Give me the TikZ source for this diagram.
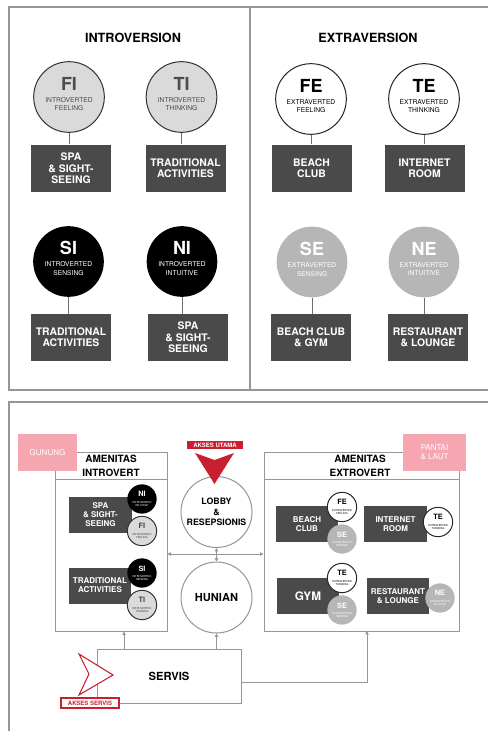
\documentclass[tikz,border=0pt]{standalone}
\usepackage{fontspec}
\setmainfont{TeX Gyre Heros}
\usetikzlibrary{arrows.meta,fit}

\definecolor{framegray}{RGB}{150,150,150}
\definecolor{boxgray}{RGB}{74,74,74}
\definecolor{lightc}{RGB}{218,218,218}
\definecolor{midc}{RGB}{182,182,182}
\definecolor{pinkc}{RGB}{245,166,176}
\definecolor{redc}{RGB}{200,32,47}
\definecolor{linkgray}{RGB}{110,110,110}

\newcommand{\fs}[2]{\fontsize{#1}{#2}\selectfont}
% big type circle: code, two lines of text
\newcommand{\typetxt}[3]{{\fs{13.5}{13}\bfseries #1}\\[2.5pt]#2\\#3}
% small type circle in the plan
\newcommand{\smalltxt}[3]{{\fs{5.5}{5.5}\bfseries #1}\\[2.2pt]#2\\#3}

\tikzset{every picture/.style={line width=0.75pt}}
\tikzset{
panel/.style={draw=framegray, line width=0.9pt},
heading/.style={font=\fs{9.5}{11}\bfseries},
typecirc/.style={circle, minimum size=53pt, inner sep=0pt, align=center, font=\fs{5}{6.5}, text depth=4.5pt},
lightcirc/.style={typecirc, fill=lightc, draw=black!80, text=black!70},
whitecirc/.style={typecirc, fill=white, draw=black!85},
blackcirc/.style={typecirc, fill=black, text=white},
graycirc/.style={typecirc, fill=midc, text=white},
smallcirc/.style={circle, minimum size=22pt, inner sep=0pt, align=center, font=\fs{2}{2.4}},
smlight/.style={smallcirc, fill=lightc, draw=black!80, text=black!75},
smwhite/.style={smallcirc, fill=white, draw=black!85},
smblack/.style={smallcirc, fill=black, text=white},
smgray/.style={smallcirc, fill=midc, text=white},
actbox/.style={rectangle, fill=boxgray, text=white, minimum width=60pt, minimum height=35.25pt, inner sep=0pt, align=center, font=\fs{7.8}{8.5}\bfseries},
actsmall/.style={rectangle, fill=boxgray, text=white, minimum width=47pt, minimum height=27pt, inner sep=0pt, align=center, font=\fs{6}{6.75}\bfseries},
link/.style={draw=linkgray, line width=0.6pt},
zone/.style={rectangle, fill=pinkc, text=white, minimum width=44.25pt, minimum height=27.75pt, inner sep=0pt, align=center, font=\fs{6}{7}},
container/.style={draw=framegray, line width=0.75pt, inner sep=0pt},
ctitle/.style={align=center, font=\fs{7.5}{10.5}\bfseries},
space/.style={circle, draw=framegray, line width=0.75pt, fill=white, minimum size=53.25pt, inner sep=0pt, align=center},
flow/.style={draw=framegray, line width=0.75pt, -{Triangle[length=2.6pt,width=2.6pt]}},
flowboth/.style={draw=framegray, line width=0.75pt, {Triangle[length=2.6pt,width=2.6pt]}-{Triangle[length=2.6pt,width=2.6pt]}},
tag/.style={rectangle, inner sep=0pt, minimum height=6.5pt, font=\fs{4.5}{5}\bfseries}
}

\begin{document}
\begin{tikzpicture}[x=0.75pt,y=0.75pt,yscale=-1,xscale=1]
\useasboundingbox (0,0) rectangle (487,731);

%Shape: Rectangle [upper panel]
\draw[panel] (9,7) rectangle (495,390);
\draw[panel] (250,7) -- (250,390);
%Shape: Rectangle [lower panel]
\draw[panel] (9,402) rectangle (495,740);

% Text Node
\node[heading] (introhead) at (133,38) {INTROVERSION};
% Text Node
\node[heading] (extrahead) at (368,38) {EXTRAVERSION};

%Shape: Circle [function types]
\node[lightcirc] (fi) at (69,97) {\typetxt{FI}{INTROVERTED}{FEELING}};
\node[lightcirc] (ti) at (181.5,97) {\typetxt{TI}{INTROVERTED}{THINKING}};
\node[whitecirc] (fe) at (311,99) {\typetxt{FE}{EXTRAVERTED}{FEELING}};
\node[whitecirc] (te) at (424,99) {\typetxt{TE}{EXTRAVERTED}{THINKING}};
\node[blackcirc] (si) at (68.5,261.5) {\typetxt{SI}{INTROVERTED}{SENSING}};
\node[blackcirc] (ni) at (182,261.5) {\typetxt{NI}{INTROVERTED}{INTUITIVE}};
\node[graycirc] (se) at (312,262) {\typetxt{SE}{EXTRAVERTED}{SENSING}};
\node[graycirc] (ne) at (424,262) {\typetxt{NE}{EXTRAVERTED}{INTUITIVE}};

%Shape: Rectangle [activities]
\node[actbox] (spaA) at (71,168.5) {SPA\\\& SIGHT-\\SEEING};
\node[actbox] (tradA) at (185.5,168.5) {TRADITIONAL\\ACTIVITIES};
\node[actbox] (beachA) at (311.5,168.5) {BEACH\\CLUB};
\node[actbox] (netA) at (424.5,168.5) {INTERNET\\ROOM};
\node[actbox] (tradB) at (71,337.5) {TRADITIONAL\\ACTIVITIES};
\node[actbox] (spaB) at (188,337.5) {SPA\\\& SIGHT-\\SEEING};
\node[actbox] (beachB) at (311,337.5) {BEACH CLUB\\\& GYM};
\node[actbox] (restoA) at (428,337.5) {RESTAURANT\\\& LOUNGE};

% links
\draw[link] (fi) -- (fi |- spaA.north);
\draw[link] (ti) -- (ti |- tradA.north);
\draw[link] (fe) -- (fe |- beachA.north);
\draw[link] (te) -- (te |- netA.north);
\draw[link] (si) -- (si |- tradB.north);
\draw[link] (ni) -- (ni |- spaB.north);
\draw[link] (se) -- (se |- beachB.north);
\draw[link] (ne) -- (ne |- restoA.north);

%Shape: Rectangle [amenity zones]
\node[container, fit={(55,452) (167,631)}] (intro) {};
\draw[container] (55,479) -- (167,479);
\node[container, fit={(264,452) (459,631)}] (extro) {};
\draw[container] (264,479) -- (459,479);

% Text Node
\node[ctitle] (introtitle) at (111,466) {AMENITAS\\INTROVERT};
% Text Node
\node[ctitle] (extrotitle) at (360,466) {AMENITAS\\EXTROVERT};

%Shape: Rectangle [landscape]
\node[zone] (gunung) at (47.5,452.5) {GUNUNG};
\node[zone, minimum width=47.25pt] (pantai) at (434.5,452.5) {PANTAI\\\& LAUT};

%Shape: Rectangle [plan amenities]
\node[actsmall] (spaC) at (100.5,515) {SPA\\\& SIGHT-\\SEEING};
\node[actsmall] (tradC) at (100,585.5) {TRADITIONAL\\ACTIVITIES};
\node[actsmall, minimum width=46.5pt] (beachC) at (307,524) {BEACH\\CLUB};
\node[actsmall] (netC) at (395.5,524) {INTERNET\\ROOM};
\node[actsmall, minimum width=46.5pt, font=\fs{8.8}{9}\bfseries] (gymC) at (308,596) {GYM};
\node[actsmall, minimum width=46.5pt] (restoC) at (398,596) {RESTAURANT\\\& LOUNGE};

%Shape: Circle [plan type marks]
\node[smblack] (niC) at (142,499) {\smalltxt{NI}{INTROVERTED}{INTUITIVE}};
\node[smlight] (fiC) at (142,531) {\smalltxt{FI}{INTROVERTED}{FEELING}};
\node[smblack] (siC) at (142,573) {\smalltxt{SI}{INTROVERTED}{SENSING}};
\node[smlight] (tiC) at (142,605) {\smalltxt{TI}{INTROVERTED}{THINKING}};
\node[smwhite] (feC) at (342,507) {\smalltxt{FE}{EXTRAVERTED}{FEELING}};
\node[smgray] (seC) at (342,539) {\smalltxt{SE}{EXTRAVERTED}{SENSING}};
\node[smwhite] (teC) at (438,522) {\smalltxt{TE}{EXTRAVERTED}{THINKING}};
\node[smwhite] (teD) at (342,578) {\smalltxt{TE}{EXTRAVERTED}{THINKING}};
\node[smgray] (seD) at (342,610) {\smalltxt{SE}{EXTRAVERTED}{SENSING}};
\node[smgray] (neC) at (440,598) {\smalltxt{NE}{EXTRAVERTED}{INTUITIVE}};

%Shape: Circle [spaces]
\node[space, font=\fs{6.6}{7.9}\bfseries] (lobby) at (216.5,512) {LOBBY\\\&\\RESEPSIONIS};
\node[space, font=\fs{8.3}{9}\bfseries] (hunian) at (216.5,597.5) {HUNIAN};
%Shape: Rectangle
\node[rectangle, draw=framegray, line width=0.75pt, fill=white, minimum width=108pt, minimum height=40.5pt, font=\fs{8.4}{9}\bfseries] (servis) at (169,676) {SERVIS};

% flows
\coordinate (mid) at (216.5,554);
\draw[flowboth] (mid -| intro.east) -- (mid -| extro.west);
\draw[flowboth] (lobby) -- (hunian);
\draw[flow] (servis.north -| hunian) -- (hunian);
\coordinate (svcA) at (124,649);
\draw[flow] (svcA) -- (svcA |- intro.south);
\coordinate (svcB) at (241,682);
\coordinate (extroin) at (367,631);
\draw[flow] (svcB) -| (extroin);

%Shape: Polygon [main access]
\draw[fill=redc, draw=none] (195,453) -- (214.5,460) -- (234,453) -- (214.5,484) -- cycle;
\node[tag, fill=redc, text=white, minimum width=42pt] (utama) at (215,445) {AKSES UTAMA};

%Shape: Polygon [service access]
\draw[draw=redc, fill=white, line width=0.8pt] (79,654) -- (113,675) -- (79,695) -- (89,674) -- cycle;
\node[tag, draw=redc, fill=white, text=redc, minimum width=43.5pt, minimum height=7.5pt, line width=0.8pt] (aksesservis) at (90,703) {AKSES SERVIS};

\end{tikzpicture}
\end{document}
